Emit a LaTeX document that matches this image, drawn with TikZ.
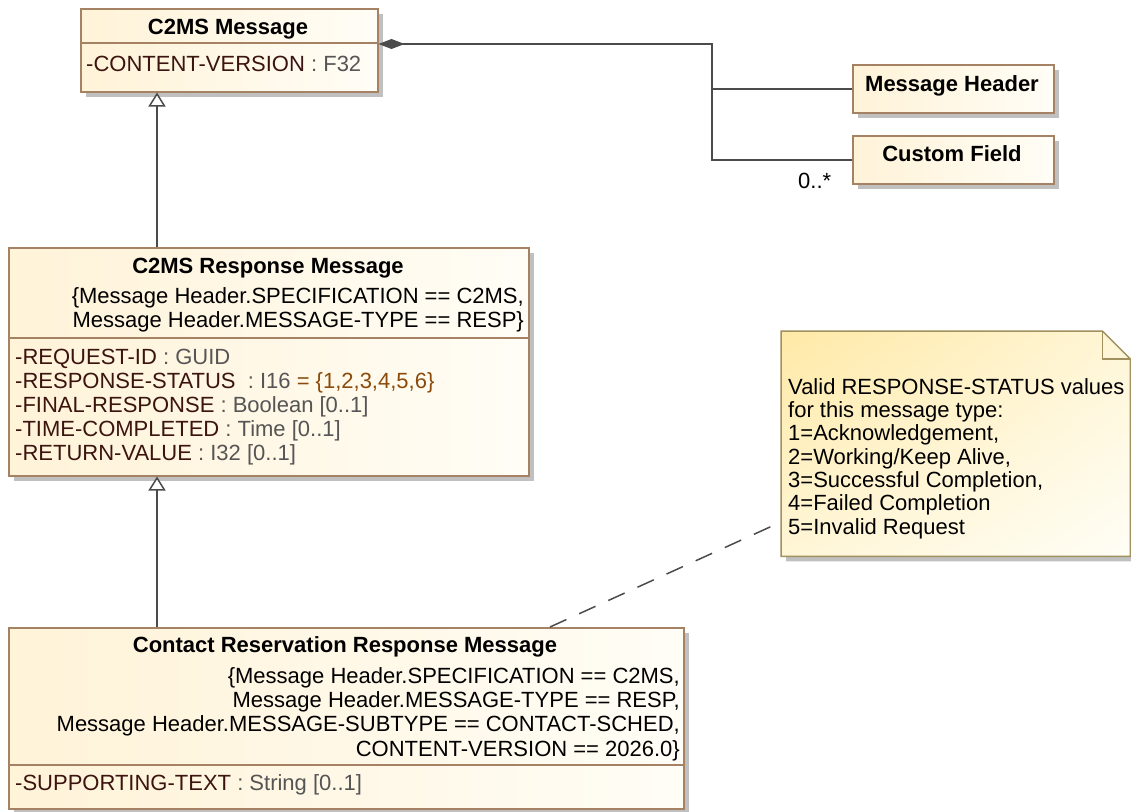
\documentclass[tikz,border=0pt]{standalone}
\usepackage{fontspec}
\setmainfont{Liberation Sans}
\usetikzlibrary{arrows.meta,shadows,shadings,calc}

\definecolor{boxline}{RGB}{165,130,100}
\definecolor{boxleft}{RGB}{255,243,216}
\definecolor{boxright}{RGB}{255,253,246}
\definecolor{noteline}{RGB}{160,145,95}
\definecolor{notetop}{RGB}{255,233,166}
\definecolor{notemid}{RGB}{255,246,215}
\definecolor{notelow}{RGB}{255,254,246}
\definecolor{connline}{RGB}{75,75,75}
\definecolor{shadowgray}{RGB}{192,192,192}
\definecolor{attrname}{RGB}{60,20,15}
\definecolor{attrtype}{RGB}{85,85,85}
\definecolor{attrval}{RGB}{140,75,10}

\newcommand{\umlfont}{\fontsize{22}{24}\selectfont}
\newcommand{\attr}[2]{\textcolor{attrname}{#1} \textcolor{attrtype}{: #2}}

\tikzset{
  classbox/.style={draw=boxline, line width=1.5pt, left color=boxleft, right color=boxright,
    anchor=north west, inner sep=0pt,
    drop shadow={shadow xshift=5pt, shadow yshift=-5pt, fill=shadowgray, opacity=1}},
  ctitle/.style={font=\umlfont\bfseries, anchor=base, inner sep=0pt},
  constr/.style={font=\umlfont, anchor=base east, align=right, inner sep=0pt},
  attrs/.style={font=\umlfont, anchor=base west, align=left, inner sep=0pt},
  crule/.style={draw=boxline, line width=1.5pt},
  conn/.style={draw=connline, line width=1.5pt},
  anchorline/.style={draw=connline, line width=1.5pt, dash pattern=on 18pt off 14pt},
  notetext/.style={font=\fontsize{22}{23.3}\selectfont, anchor=base west, align=left, inner sep=0pt}
}

\begin{document}
\begin{tikzpicture}[x=1pt, y=-1pt, font=\umlfont]
\useasboundingbox (0,0) rectangle (1131,811);

% C2MS Message
\node[classbox, minimum width=297pt, minimum height=83pt] (msg) at (80,8) {};
\node[ctitle] (msgname) at (228,34) {C2MS Message};
\draw[crule] (80,43) -- (377,43);
\node[attrs] (msgattr) at (86,71) {\attr{-CONTENT-VERSION}{F32}};

% Message Header / Custom Field
\node[classbox, minimum width=201pt, minimum height=48pt] (mh) at (852,64) {};
\node[ctitle] (mhname) at (952,91) {Message Header};
\node[classbox, minimum width=201pt, minimum height=48pt] (cf) at (852,135) {};
\node[ctitle] (cfname) at (952,161) {Custom Field};

% C2MS Response Message
\node[classbox, minimum width=520pt, minimum height=228pt] (resp) at (8,247) {};
\node[ctitle] (respname) at (268,273) {C2MS Response Message};
\node[constr] (respcon) at (524,327) {\{Message Header.SPECIFICATION == C2MS,\\Message Header.MESSAGE-TYPE == RESP\}};
\draw[crule] (8,338) -- (528,338);
\node[attrs] (respattr) at (15,460) {\attr{-REQUEST-ID}{GUID}\\
  \textcolor{attrname}{-RESPONSE-STATUS}\ \ \textcolor{attrtype}{: I16} \textcolor{attrval}{= \{1,2,3,4,5,6\}}\\
  \attr{-FINAL-RESPONSE}{Boolean [0..1]}\\
  \attr{-TIME-COMPLETED}{Time [0..1]}\\
  \attr{-RETURN-VALUE}{I32 [0..1]}};

% Contact Reservation Response Message
\node[classbox, minimum width=675pt, minimum height=181pt] (ctr) at (8,627) {};
\node[ctitle] (ctrname) at (345,652) {Contact Reservation Response Message};
\node[constr, font=\fontsize{22}{24.3}\selectfont] (ctrcon) at (680,756) {\{Message Header.SPECIFICATION == C2MS,\\Message Header.MESSAGE-TYPE == RESP,\\Message Header.MESSAGE-SUBTYPE == CONTACT-SCHED,\\CONTENT-VERSION == 2026.0\}};
\draw[crule] (8,765) -- (683,765);
\node[attrs] (ctrattr) at (15,790) {\attr{-SUPPORTING-TEXT}{String [0..1]}};

% note
\node[anchor=north west, minimum width=349pt, minimum height=225pt, inner sep=0pt] (note) at (781,331) {};
\fill[shadowgray, transform canvas={xshift=5pt, yshift=-5pt}] (note.north west) -- ($(note.north east)+(-28,0)$) -- ($(note.north east)+(0,28)$) -- (note.south east) -- (note.south west) -- cycle;
\shade[upper left=notetop, upper right=notemid, lower left=notemid, lower right=notelow, draw=noteline, line width=1.5pt] (note.north west) -- ($(note.north east)+(-28,0)$) -- ($(note.north east)+(0,28)$) -- (note.south east) -- (note.south west) -- cycle;
\draw[draw=noteline, line width=1.5pt] ($(note.north east)+(-28,0)$) |- ($(note.north east)+(0,28)$);
\node[notetext] (notetxt) at (788,534) {Valid RESPONSE-STATUS values\\for this message type:\\1=Acknowledgement,\\2=Working/Keep Alive,\\3=Successful Completion,\\4=Failed Completion\\5=Invalid Request};

% connectors
\coordinate (junc) at (712,44);
\draw[conn, {Diamond[length=26pt, width=10pt, fill=connline]}-] (msg.east |- junc) -- (junc) |- (cf.west);
\draw[conn] (junc |- mh.west) -- (mh.west);
\node[attrs] (cfmult) at (798,188) {0..*};

\coordinate (genx) at (157,0);
\draw[conn, -{Triangle[open, length=14pt, width=17pt, fill=white]}] (resp.north -| genx) -- (msg.south -| genx);
\draw[conn, -{Triangle[open, length=14pt, width=17pt, fill=white]}] (ctr.north -| genx) -- (resp.south -| genx);

\coordinate (ctrhook) at (550,0);
\coordinate (notehook) at (0,522);
\draw[anchorline] (ctr.north -| ctrhook) -- (note.west |- notehook);
\end{tikzpicture}
\end{document}
